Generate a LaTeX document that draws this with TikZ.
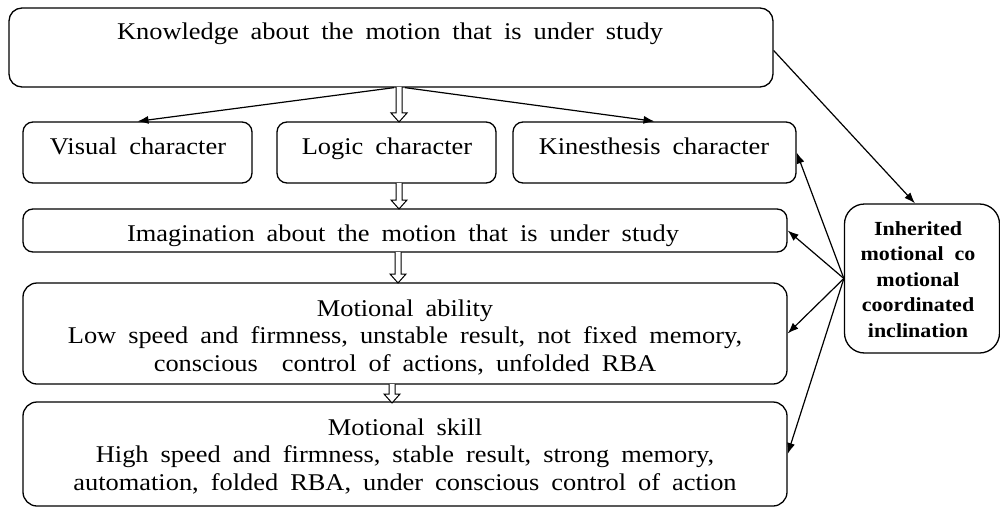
\documentclass[tikz,border=0pt]{standalone}
\usepackage{fontspec}
\setmainfont{Liberation Serif}[FakeStretch=1.1]
\usetikzlibrary{arrows.meta}
\newcommand\hollowarrow[3]{\draw[harr] (#1-3,#2) -- (#1-3,#3-9) -- (#1-8,#3-9) -- (#1,#3) -- (#1+8,#3-9) -- (#1+3,#3-9) -- (#1+3,#2);}
\newcommand\bigtxtfont{\fontsize{24}{27.5}\selectfont\spaceskip 12pt\relax}
\newcommand\smalltxtfont{\fontsize{20}{25.5}\selectfont\bfseries}
\begin{document}
\begin{tikzpicture}[x=1pt,y=-1pt,
  box/.style={draw, line width=1.3pt, rounded corners=10pt, inner sep=0pt},
  txt/.style={font=\bigtxtfont, align=center, inner sep=0pt, anchor=base},
  stxt/.style={font=\smalltxtfont, align=center, inner sep=0pt, anchor=base},
  conn/.style={line width=1.2pt, -{Latex[length=11pt,width=8pt]}},
  harr/.style={line width=1pt, fill=white}]
\useasboundingbox (0,0) rectangle (1000,508);
% boxes
\node[box, rounded corners=13pt, minimum width=764pt, minimum height=79pt] (know) at (391,47.5) {};
\node[box, minimum width=229pt, minimum height=61pt] (visual) at (137.5,152.5) {};
\node[box, minimum width=219pt, minimum height=61pt] (logic) at (386.5,152.5) {};
\node[box, minimum width=283pt, minimum height=61pt] (kin) at (654.5,152.5) {};
\node[box, minimum width=764pt, minimum height=43pt] (imag) at (405,230.5) {};
\node[box, rounded corners=14pt, minimum width=764pt, minimum height=101pt] (ability) at (405,333.5) {};
\node[box, rounded corners=14pt, minimum width=764pt, minimum height=104pt] (skill) at (405,454) {};
\node[box, rounded corners=20pt, minimum width=155pt, minimum height=149pt] (inh) at (922,278.5) {};
% texts (anchor base = baseline of last line)
\node[txt] (knowt) at (390,40) {Knowledge about the motion that is under study};
\node[txt] (visualt) at (138,154) {Visual character};
\node[txt] (logict) at (387,154) {Logic character};
\node[txt] (kint) at (654,154) {Kinesthesis character};
\node[txt] (imagt) at (403,241) {Imagination about the motion that is under study};
\node[txt] (abilityt) at (405,371) {Motional ability\\Low speed and firmness, unstable result, not fixed memory,\\conscious~ control of actions, unfolded RBA};
\node[txt] (skillt) at (405,490) {Motional skill\\High speed and firmness, stable result, strong memory,\\automation, folded RBA, under conscious control of action};
\node[stxt] (inht) at (918,337) {Inherited\\motional~ co\\motional\\coordinated\\inclination};
% connectors
\draw[conn] ([xshift=3pt]know.south) -- (visual.north);
\draw[conn] ([xshift=14pt]know.south) -- (kin.north);
\draw[conn] ([yshift=-3pt]know.east) -- ([xshift=-7pt]inh.north);
\draw[conn] (inh.west) -- (kin.east);
\draw[conn] (inh.west) -- (imag.east);
\draw[conn] (inh.west) -- (ability.east);
\draw[conn] (inh.west) -- (skill.east);
% hollow arrows
\hollowarrow{399}{87}{122}
\hollowarrow{399}{183}{209}
\hollowarrow{398}{252}{283}
\hollowarrow{392}{384}{403}
\end{tikzpicture}
\end{document}
